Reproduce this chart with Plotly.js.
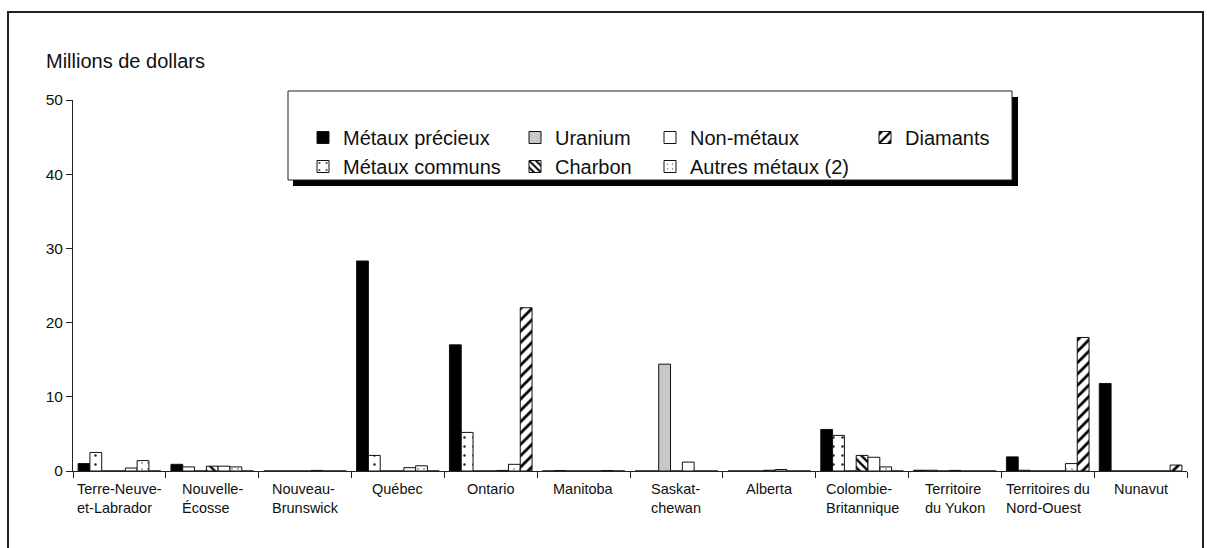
<!DOCTYPE html>
<html>
<head>
<meta charset="utf-8">
<script src="https://cdn.plot.ly/plotly-3.0.1.min.js"></script>
<style>
  body { margin: 0; background: #fff; }
  #chart { width: 1207px; height: 548px; }
</style>
</head>
<body>
<div id="chart"></div>
<script>
// Dépenses par province / territoire, millions de dollars

const provinces = [
    'Terre-Neuve-<br>et-Labrador', 'Nouvelle-<br>Écosse', 'Nouveau-<br>Brunswick', 'Québec',
    'Ontario', 'Manitoba', 'Saskat-<br>chewan', 'Alberta', 'Colombie-<br>Britannique',
    'Territoire<br>du Yukon', 'Territoires du<br>Nord-Ouest', 'Nunavut'
];

const metauxPrecieux = [1.0, 0.9, 0, 28.3, 17.0, 0, 0, 0, 5.6, 0.1, 1.9, 11.8];
const metauxCommuns  = [2.5, 0.55, 0, 2.1, 5.2, 0.06, 0, 0, 4.8, 0.1, 0.1, 0];
const uranium        = [0, 0, 0, 0, 0, 0, 14.4, 0, 0, 0, 0, 0];
const charbon        = [0, 0.65, 0, 0, 0, 0, 0, 0.1, 2.1, 0.08, 0, 0];
const nonMetaux      = [0.4, 0.65, 0.08, 0.45, 0.08, 0, 1.2, 0.2, 1.85, 0, 0, 0];
const autresMetaux   = [1.4, 0.55, 0, 0.7, 0.9, 0.06, 0, 0, 0.55, 0, 1.0, 0];
const diamants       = [0, 0, 0, 0, 22.0, 0, 0, 0, 0, 0, 18.0, 0.8];

const yTicks = [0, 10, 20, 30, 40, 50];

const FONT = 'Liberation Sans, Arial, sans-serif';

// plot area in pixels, used for the frame and the legend box
const plotLeft = 73, plotRight = 1187, plotTop = 100, plotBottom = 471;
function px2x(px) { return (px - plotLeft) / (plotRight - plotLeft); }
function py2y(py) { return (plotBottom - py) / (plotBottom - plotTop); }

const outline = { color: '#111', width: 1 };

function barTrace(name, values, legend, color, pattern) {
    const marker = { color: color, line: outline };
    if (pattern) marker.pattern = pattern;
    return {
        type: 'bar',
        name: name,
        x: provinces,
        y: values,
        legend: legend,
        marker: marker,
        hoverinfo: 'skip'
    };
}

const traces = [
    barTrace('Métaux précieux', metauxPrecieux, 'legend', '#000'),
    barTrace('Métaux communs', metauxCommuns, 'legend', '#fff',
        { shape: '.', fgcolor: '#222', bgcolor: '#fff', size: 9, solidity: 0.06 }),
    barTrace('Uranium', uranium, 'legend2', '#c8c8c8'),
    barTrace('Charbon', charbon, 'legend2', '#fff',
        { shape: '\\', fgcolor: '#000', bgcolor: '#fff', size: 6, solidity: 0.4 }),
    barTrace('Non-métaux', nonMetaux, 'legend3', '#fff'),
    barTrace('Autres métaux (2)', autresMetaux, 'legend3', '#fff',
        { shape: '.', fgcolor: '#444', bgcolor: '#fff', size: 6, solidity: 0.05 }),
    barTrace('Diamants', diamants, 'legend4', '#fff',
        { shape: '/', fgcolor: '#000', bgcolor: '#fff', size: 8, solidity: 0.35 })
];

function legendAt(left, top) {
    return {
        x: px2x(left), y: py2y(top),
        xanchor: 'left', yanchor: 'top',
        orientation: 'v',
        bgcolor: 'rgba(0,0,0,0)',
        borderwidth: 0,
        font: { family: FONT, size: 20, color: '#111' },
        traceorder: 'normal'
    };
}

// category labels: left-aligned lines, block centred on the category
const labelAnnotations = provinces.map(function(p) {
    return {
        x: p, y: 0, xref: 'x', yref: 'paper',
        text: p, showarrow: false,
        xanchor: 'center', yanchor: 'top', align: 'left',
        yshift: -8,
        font: { family: FONT, size: 14.5, color: '#111' }
    };
});

const layout = {
    width: 1207,
    height: 548,
    autosize: false,
    margin: { l: plotLeft, r: 1207 - plotRight, t: plotTop, b: 548 - plotBottom, pad: 0 },
    paper_bgcolor: '#fff',
    plot_bgcolor: '#fff',
    font: { family: FONT, color: '#111' },
    title: {
        text: 'Millions de dollars',
        xref: 'container', yref: 'container',
        x: 46 / 1207, xanchor: 'left',
        y: 1 - 61 / 548, yanchor: 'middle',
        font: { family: FONT, size: 20, color: '#111' }
    },
    barmode: 'group',
    bargap: 0.11,
    bargroupgap: 0,
    xaxis: {
        type: 'category',
        range: [-0.5, provinces.length - 0.5],
        showticklabels: false,
        ticks: 'outside',
        tickson: 'boundaries',
        ticklen: 6,
        tickcolor: '#222',
        showline: true,
        linecolor: '#222',
        linewidth: 1,
        showgrid: false,
        zeroline: false,
        fixedrange: true
    },
    yaxis: {
        range: [0, 50],
        tickvals: yTicks,
        ticks: 'outside',
        ticklen: 6,
        tickcolor: '#222',
        tickfont: { family: FONT, size: 15.5, color: '#111' },
        showline: true,
        linecolor: '#222',
        linewidth: 1,
        showgrid: false,
        zeroline: false,
        fixedrange: true
    },
    legend: legendAt(303, 118),
    legend2: legendAt(515, 118),
    legend3: legendAt(650, 118),
    legend4: legendAt(865, 118),
    annotations: labelAnnotations,
    shapes: [
        // outer frame
        { type: 'rect', xref: 'paper', yref: 'paper', layer: 'above',
          x0: px2x(8), x1: px2x(1203), y0: py2y(600), y1: py2y(12),
          line: { color: '#222', width: 2 } },
        // legend shadow
        { type: 'rect', xref: 'paper', yref: 'paper', layer: 'above',
          x0: px2x(293), x1: px2x(1018), y0: py2y(186), y1: py2y(97),
          fillcolor: '#000', line: { width: 0 } },
        // legend box
        { type: 'rect', xref: 'paper', yref: 'paper', layer: 'above',
          x0: px2x(288), x1: px2x(1012), y0: py2y(180), y1: py2y(91),
          fillcolor: '#fff', line: { color: '#222', width: 1 } }
    ],
    showlegend: true
};

Plotly.newPlot('chart', traces, layout, { displayModeBar: false, staticPlot: true });
</script>
</body>
</html>
